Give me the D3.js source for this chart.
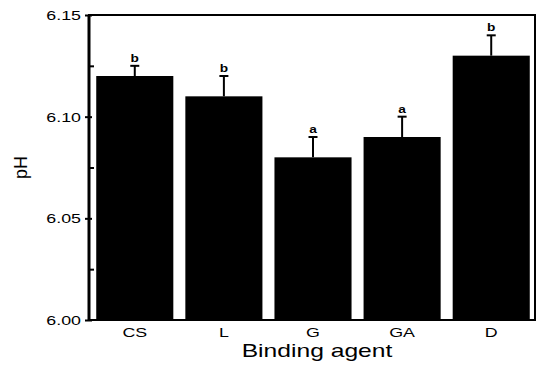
<!DOCTYPE html>
<html><head><meta charset="utf-8">
<script src="https://cdn.jsdelivr.net/npm/d3@7"></script>
<style>body{margin:0;background:#fff}svg{display:block}text{font-family:"Liberation Sans",Arial,sans-serif;fill:#000}</style>
</head><body>
<svg id="c" width="537" height="367"></svg>
<script>
const categories = ["CS", "L", "G", "GA", "D"];
const means = [6.12, 6.11, 6.08, 6.09, 6.13];
const errors = [0.005, 0.01, 0.01, 0.01, 0.01];
const letters = ["b", "b", "a", "a", "b"];
const yTicks = [6.00, 6.05, 6.10, 6.15];
const yMinorTicks = [6.025, 6.075, 6.125];

const svg = d3.select("#c");
const L = 89, R = 535, T = 15, B = 320;
const SX = 1.37; // horizontal stretch of the lettering in the reference

const x = d3.scaleBand().domain(categories).range([L + 1, R + 1]).paddingInner(0.135).paddingOuter(0.07);
const y = d3.scaleLinear().domain([6.00, 6.15]).range([B, T]);

function stretchedText(g, px, py, str, size, anchor, weight) {
  g.append("g").attr("transform", `translate(${px},${py}) scale(${SX},1)`)
    .append("text").attr("text-anchor", anchor).attr("font-size", size)
    .attr("font-weight", weight || "normal").text(str);
}

// bars
svg.append("g").selectAll("rect").data(categories).join("rect")
  .attr("x", d => x(d)).attr("width", x.bandwidth())
  .attr("y", (d, i) => y(means[i])).attr("height", (d, i) => y(6.00) - y(means[i]))
  .attr("fill", "#000");

// error bars (upper only)
const eb = svg.append("g").attr("stroke", "#000").attr("stroke-width", 2);
categories.forEach((c, i) => {
  const cx = x(c) + x.bandwidth() / 2;
  eb.append("line").attr("x1", cx).attr("x2", cx).attr("y1", y(means[i])).attr("y2", y(means[i] + errors[i]));
  eb.append("line").attr("x1", cx - 4.5).attr("x2", cx + 4.5).attr("y1", y(means[i] + errors[i])).attr("y2", y(means[i] + errors[i]));
  stretchedText(svg, cx, y(means[i] + errors[i]) - 4, letters[i], 10, "middle", "bold");
});

// frame
svg.append("rect").attr("x", L).attr("y", T).attr("width", R - L).attr("height", B - T)
  .attr("fill", "none").attr("stroke", "#000").attr("stroke-width", 2);
svg.append("line").attr("x1", L).attr("x2", L).attr("y1", T).attr("y2", B + 1)
  .attr("stroke", "#000").attr("stroke-width", 3);

// y axis ticks
const yAxis = svg.append("g").attr("transform", `translate(${L},0)`)
  .call(d3.axisLeft(y).tickValues(yTicks).tickSize(4).tickFormat(""));
yAxis.select(".domain").remove();
yAxis.selectAll("line").attr("stroke-width", 2).attr("x2", -4).attr("x1", 3);
const yMinor = svg.append("g").attr("transform", `translate(${L},0)`)
  .call(d3.axisRight(y).tickValues(yMinorTicks).tickSize(5).tickFormat(""));
yMinor.select(".domain").remove();
yMinor.selectAll("line").attr("stroke-width", 2);
yTicks.forEach(v => stretchedText(svg, L - 8, y(v) + 5, d3.format(".2f")(v), 13, "end"));

// x axis labels
const xAxis = svg.append("g").attr("transform", `translate(0,${B})`)
  .call(d3.axisBottom(x).tickSize(0).tickFormat(""));
xAxis.select(".domain").remove();
categories.forEach(c => stretchedText(svg, x(c) + x.bandwidth() / 2, 337, c, 13, "middle"));

// axis titles
stretchedText(svg, 317, 357, "Binding agent", 18, "middle");
svg.append("text").attr("transform", `translate(27,${(T + B) / 2}) rotate(-90)`)
  .attr("text-anchor", "middle").attr("font-size", 18).text("pH");
</script>
</body></html>
